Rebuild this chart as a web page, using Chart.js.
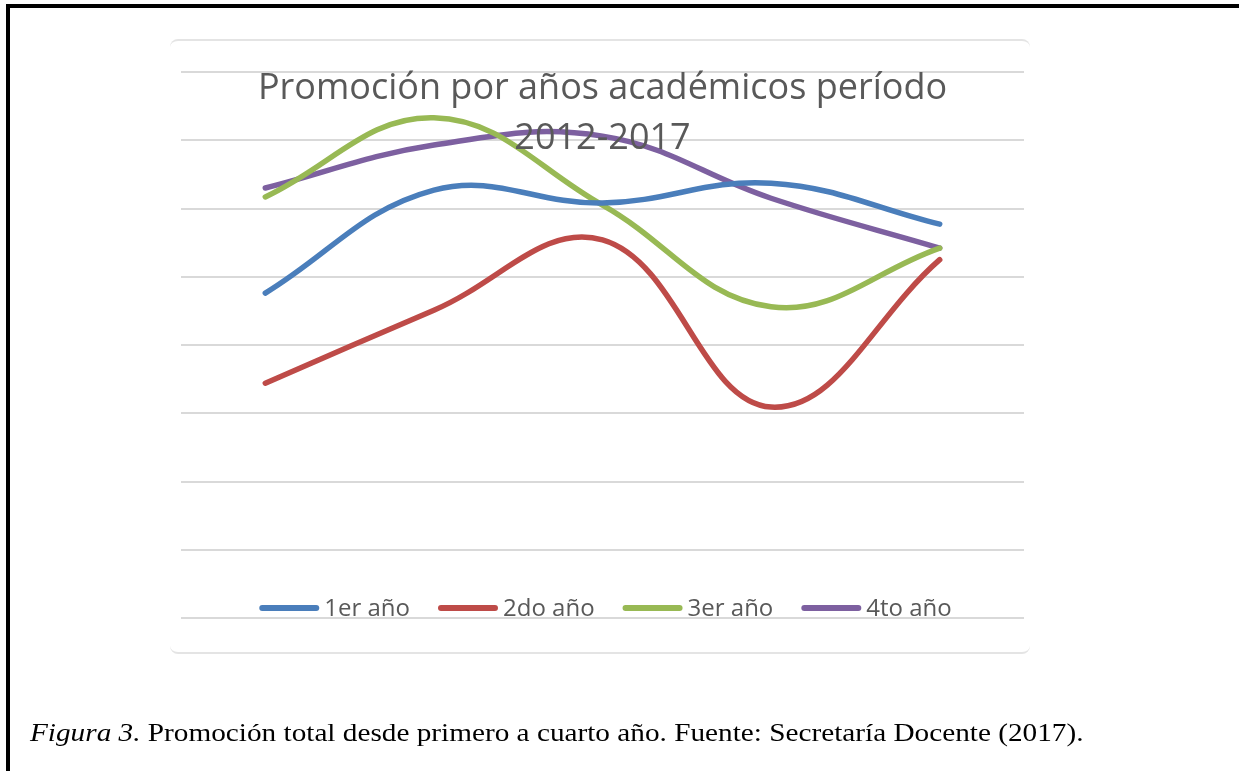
<!DOCTYPE html>
<html>
<head>
<meta charset="utf-8">
<script src="https://cdn.jsdelivr.net/npm/chart.js@4.4.0/dist/chart.umd.min.js"></script>
<style>
  html, body { margin: 0; padding: 0; background: #fff; }
  body { width: 1239px; height: 771px; position: relative; overflow: hidden; }
  #frame {
    position: absolute; left: 6px; top: 4px; right: -20px; bottom: -20px;
    border-top: 4px solid #000; border-left: 4px solid #000;
  }
  #box {
    position: absolute; left: 170px; top: 39px; width: 860px; height: 611px;
    border-top: 2px solid #e4e4e4; border-bottom: 2px solid #e4e4e4; border-radius: 8px;
  }
  #wrap { position: absolute; left: 0; top: 0; width: 1239px; height: 771px; }
  #caption {
    position: absolute; left: 30px; top: 720px; line-height: 1;
    font-family: "Liberation Serif", "Times New Roman", serif; font-size: 26px;
    color: #000; white-space: nowrap;
    transform: scaleX(1.125); transform-origin: 0 0;
  }
</style>
</head>
<body>
<div id="frame"></div>
<div id="box"></div>
<div id="wrap"><canvas id="chart" width="1239" height="771"></canvas></div>
<div id="caption"><i>Figura 3.</i> Promoción total desde primero a cuarto año. Fuente: Secretaría Docente (2017).</div>
<script>
// chart data (no axis labels in the original)
const categories = ["2012-2013", "2013-2014", "2014-2015", "2015-2016", "2016-2017"];
const seriesNames = ["1er año", "2do año", "3er año", "4to año"];
const primerAno = [4.76, 6.27, 6.08, 6.37, 5.77];
const segundoAno = [3.44, 4.51, 5.54, 3.09, 5.25];
const tercerAno = [6.17, 7.33, 6.05, 4.56, 5.42];
const cuartoAno = [6.30, 6.93, 7.06, 6.15, 5.42];
const titleLines = ["Promoción por años académicos período", "2012-2017"];
const yMin = 0;
const yMax = 8;
const yStep = 1;

const colors = ["#4a7ebb", "#be4b48", "#98b954", "#7d60a0"];
const textColor = "#595959";

// title and legend sit on top of the plot area, like the Excel original
const overlayText = {
  id: "overlayText",
  afterDatasetsDraw(chart) {
    const ctx = chart.ctx;
    const area = chart.chartArea;
    const cx = (area.left + area.right) / 2;
    ctx.save();
    ctx.fillStyle = textColor;
    ctx.textBaseline = "middle";

    // title
    ctx.textAlign = "center";
    ctx.font = '36px "Open Sans"';
    titleLines.forEach((line, i) => {
      ctx.fillText(line, cx, area.top + 17 + i * 50);
    });

    // legend
    ctx.font = '24px "Open Sans"';
    ctx.textAlign = "left";
    const sample = 60;
    const gap = 5;
    const itemGap = 28;
    const items = chart.data.datasets.map((ds) => ({
      label: ds.label,
      color: ds.borderColor,
      w: sample + gap + ctx.measureText(ds.label).width,
    }));
    const total = items.reduce((s, it) => s + it.w, 0) + itemGap * (items.length - 1);
    let x = cx + 3 - total / 2;
    const y = area.bottom - 10;
    items.forEach((it) => {
      ctx.strokeStyle = it.color;
      ctx.lineWidth = 6;
      ctx.lineCap = "round";
      ctx.beginPath();
      ctx.moveTo(x + 3, y);
      ctx.lineTo(x + sample - 3, y);
      ctx.stroke();
      ctx.fillText(it.label, x + sample + gap, y + 1);
      x += it.w + itemGap;
    });
    ctx.restore();
  },
};

const seriesData = [primerAno, segundoAno, tercerAno, cuartoAno];

new Chart(document.getElementById("chart").getContext("2d"), {
  type: "line",
  data: {
    labels: categories,
    datasets: seriesData.map((values, i) => ({
      label: seriesNames[i],
      data: values,
      borderColor: colors[i],
      backgroundColor: colors[i],
      borderWidth: 5.5,
      borderCapStyle: "round",
      pointRadius: 0,
      tension: 0.4,
      fill: false,
    })),
  },
  options: {
    responsive: false,
    animation: false,
    layout: {
      padding: { left: 181, right: 215, top: 72, bottom: 153 },
    },
    plugins: {
      legend: { display: false },
      title: { display: false },
      tooltip: { enabled: false },
    },
    scales: {
      x: {
        display: false,
        offset: true,
      },
      y: {
        min: yMin,
        max: yMax,
        ticks: { stepSize: yStep, display: false },
        grid: { color: "#d9d9d9", lineWidth: 2, drawTicks: false },
        border: { display: false },
      },
    },
  },
  plugins: [overlayText],
});
</script>
</body>
</html>
